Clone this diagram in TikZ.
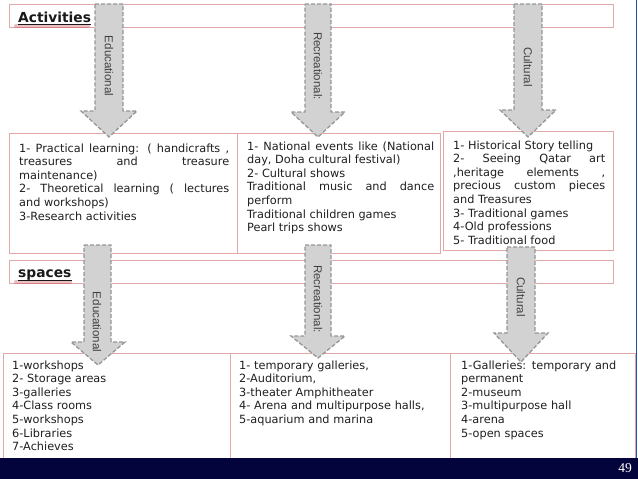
\documentclass[tikz,border=0pt]{standalone}
\usepackage{fontspec}
\newfontfamily\boxfont{DejaVu Sans}
\newfontfamily\arrowfont{Liberation Sans}
\newfontfamily\pagefont{Liberation Serif}
\definecolor{boxline}{RGB}{226,168,168}
\definecolor{arrowfill}{RGB}{210,210,210}
\definecolor{arrowline}{RGB}{150,150,150}
\definecolor{navy}{RGB}{4,4,60}
\definecolor{edgeblue}{RGB}{40,80,170}
\definecolor{glow}{RGB}{190,40,50}
\tolerance=10000
\hbadness=10000

\begin{document}
\begin{tikzpicture}[x = 1pt, y = -1pt,
	cell/.style = {draw = boxline, line width = 0.8, inner sep = 0, anchor = north west},
	arrowbox/.style = {fill = arrowfill, draw = arrowline, line width = 1.3, dash pattern = on 4pt off 2pt},
	arrowlabel/.style = {rotate = -90, inner sep = 0, text = black!75, font = \arrowfont\fontsize{11.5}{12}\selectfont},
	txt/.style = {anchor = north west, inner sep = 0, text = black!88, font = \boxfont\fontsize{11.3}{13.6}\selectfont},
	heading/.style = {anchor = base west, inner sep = 0, text = black!90, font = \boxfont\bfseries\fontsize{13.8}{14}\selectfont},
	halo/.style = {glow, opacity = 0.3, line cap = round, line width = 4}]
		\useasboundingbox (0, 0) rectangle (638, 479);
		\fill[white] (0, 0) rectangle (638, 479);
		% Bars
		\node[cell, minimum width = 604, minimum height = 23] (actbar) at (9, 4) {};
		\node[cell, minimum width = 604, minimum height = 23] (spacebar) at (9, 260) {};
		% Activity boxes
		\node[cell, minimum width = 228, minimum height = 120] (edubox) at (9, 133) {};
		\node[cell, minimum width = 203, minimum height = 120] (recbox) at (237, 133) {};
		\node[cell, minimum width = 170, minimum height = 119] (culbox) at (443, 131) {};
		% Space boxes
		\node[cell, minimum width = 227, minimum height = 108] (eduspace) at (3, 353) {};
		\node[cell, minimum width = 220, minimum height = 108] (recspace) at (230, 353) {};
		\node[cell, minimum width = 185, minimum height = 108] (culspace) at (450, 353) {};
		% Headings
		\draw[halo] (16, 26) -- (88, 26);
		\draw[halo] (16, 281.5) -- (70, 281.5);
		\node[heading] (acthead) at (18, 22) {Activities};
		\node[heading] (spacehead) at (18, 277) {spaces};
		\draw[black!90, line width = 1.3] ([yshift = -2.5pt]acthead.base west) -- ([yshift = -2.5pt]acthead.base east);
		\draw[black!90, line width = 1.3] ([yshift = -3.5pt]spacehead.base west) -- ([yshift = -3.5pt]spacehead.base east);
		% Arrows to activities
		\draw[arrowbox] (95, 4) -- (123, 4) -- (123, 111) -- (137, 111) -- (109, 137) -- (81, 111) -- (95, 111) -- cycle;
		\draw[arrowbox] (305, 4) -- (331, 4) -- (331, 112) -- (345, 112) -- (318, 137) -- (291, 112) -- (305, 112) -- cycle;
		\draw[arrowbox] (514, 4) -- (542, 4) -- (542, 110) -- (556, 110) -- (528, 137) -- (500, 110) -- (514, 110) -- cycle;
		% Arrows to spaces
		\draw[arrowbox] (84, 245) -- (111, 245) -- (111, 342) -- (125, 342) -- (98, 365) -- (71, 342) -- (84, 342) -- cycle;
		\draw[arrowbox] (305, 245) -- (331, 245) -- (331, 336) -- (345, 336) -- (318, 358) -- (291, 336) -- (305, 336) -- cycle;
		\draw[arrowbox] (507, 247) -- (535, 247) -- (535, 333) -- (548, 333) -- (521, 362) -- (494, 333) -- (507, 333) -- cycle;
		\node[arrowlabel] (edulab) at (109, 66) {Educational};
		\node[arrowlabel] (reclab) at (318, 66) {Recreational:};
		\node[arrowlabel] (cullab) at (528, 67) {Cultural};
		\node[arrowlabel] (edulabb) at (97, 322) {Educational};
		\node[arrowlabel] (reclabb) at (318, 299) {Recreational:};
		\node[arrowlabel] (cullabb) at (521, 297) {Cultural};
		% Activity texts
		\node[txt, text width = 210, align = justify] (edutxt) at (19, 143.4) {1- Practical learning: ( handicrafts ,\linebreak treasures and treasure\linebreak maintenance)\\2- Theoretical learning ( lectures\linebreak and workshops)\\3-Research activities};
		\node[txt, text width = 187, align = justify] (rectxt) at (247, 141.4) {1- National events like (National\linebreak day, Doha cultural festival)\\2- Cultural shows\\Traditional music and dance\linebreak perform\\Traditional children games\\Pearl trips shows};
		\node[txt, text width = 152, align = justify] (cultxt) at (453, 140.4) {1- Historical Story telling\\2- Seeing Qatar art\linebreak ,heritage elements ,\linebreak precious custom pieces\linebreak and Treasures\\3- Traditional games\\4-Old professions\\5- Traditional food};
		% Space texts
		\node[txt, text width = 200, align = left] (edusp) at (12, 360.4) {1-workshops\\2- Storage areas\\3-galleries\\4-Class rooms\\5-workshops\\6-Libraries\\7-Achieves};
		\node[txt, text width = 200, align = left] (recsp) at (239, 360.4) {1- temporary galleries,\\2-Auditorium,\\3-theater Amphitheater\\4- Arena and multipurpose halls,\\5-aquarium and marina};
		\node[txt, text width = 170, align = left] (culsp) at (461, 360.4) {1-Galleries: temporary and\\permanent\\2-museum\\3-multipurpose hall\\4-arena\\5-open spaces};
		% Frame
		\fill[navy] (0, 458) rectangle (638, 479);
		\draw[edgeblue, line width = 1.5] (636.5, 0) -- (636.5, 458);
		\node[text = white, inner sep = 0, font = \pagefont\fontsize{13.5}{14}\selectfont] (pagenum) at (625, 468) {49};
	\end{tikzpicture}
\end{document}
